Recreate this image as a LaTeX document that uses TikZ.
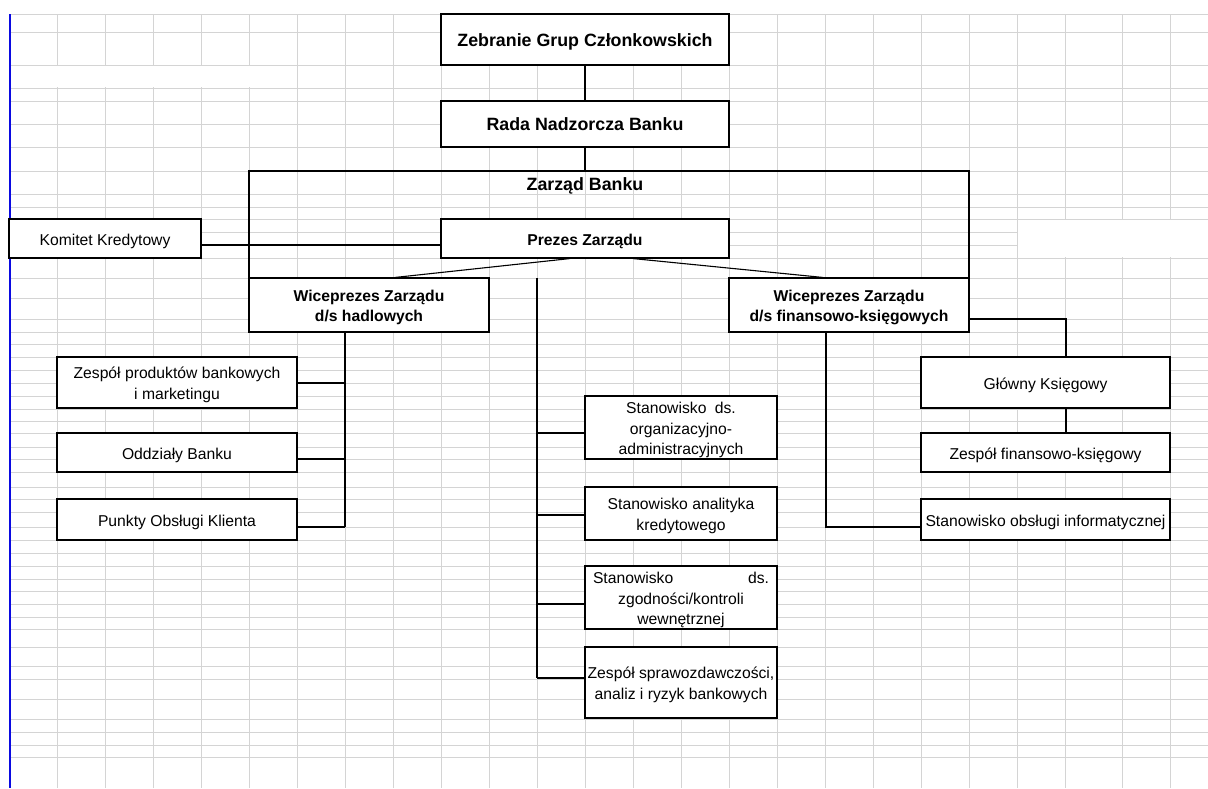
\documentclass[tikz,border=0pt]{standalone}
\usepackage{fontspec}
\setmainfont{Liberation Sans}
\definecolor{gridc}{RGB}{212,212,212}
\definecolor{bluel}{RGB}{10,10,225}
\newcommand{\topstrutx}{\rule{0pt}{17pt}}
\newcommand{\botstrutx}{\rule[-4pt]{0pt}{0pt}}
\tikzset{
  gridline/.style={draw=gridc, line width=0.9pt},
  conn/.style={draw=black, line width=1.1pt},
  box/.style={draw=black, fill=white, line width=1.1pt, rectangle, inner sep=0pt, align=center,
              font=\fontsize{15.7}{20.5}\selectfont},
  bigbox/.style={box, font=\fontsize{17.8}{21}\selectfont\bfseries},
  midbox/.style={box, font=\fontsize{15.7}{20.5}\selectfont\bfseries},
}
\begin{document}
\begin{tikzpicture}[x=1pt,y=-1pt]
\useasboundingbox (0,0) rectangle (1208,788);
\fill[white] (0,0) rectangle (1208,788);
% spreadsheet grid
\foreach \y in {14,32,65,88,101,124,147,171,194,207,219,232,245,258,278,298,319,332,344,357,370,383,396,409,421,433,447,459,472,487,499,512,527,540,553,566,579,591,604,617,629,647,666,679,699,719,732,745,757}
  \draw[gridline] (9,\y) -- (1208,\y);
\foreach \x in {57,105,...,1065,1122,1170}
  \draw[gridline] (\x,14) -- (\x,788);
\fill[white] (10.5,65.6) rectangle (296.5,87.4);
\fill[white] (1017.6,219.6) rectangle (1208,257.4);
\draw[bluel, line width=2pt] (9.5,14) -- (9.5,788);

% Zarzad frame
\draw[conn] (249,278) -- (249,171) -- (969,171) -- (969,278);
\node[font=\fontsize{17.8}{21}\selectfont\bfseries] (zb) at (585,186) {Zarząd Banku};
\coordinate (zt) at (585,171);

% nodes
\node[bigbox, minimum width=288pt, minimum height=51pt] (zeb) at (585,39.5) {\topstrutx Zebranie Grup Członkowskich\botstrutx};
\node[bigbox, minimum width=288pt, minimum height=46pt] (rada) at (585,124) {\topstrutx Rada Nadzorcza Banku\botstrutx};
\node[midbox, minimum width=288pt, minimum height=39pt] (prez) at (585,238.5) {\topstrutx Prezes Zarządu\botstrutx};
\node[box, minimum width=192pt, minimum height=39pt] (kom) at (105,238.5) {\topstrutx Komitet Kredytowy\botstrutx};
\node[midbox, minimum width=240pt, minimum height=54pt] (wl) at (369,305) {\topstrutx Wiceprezes Zarządu\\d/s hadlowych\botstrutx};
\node[midbox, minimum width=240pt, minimum height=54pt] (wr) at (849,305) {\topstrutx Wiceprezes Zarządu\\d/s finansowo-księgowych\botstrutx};

\node[box, minimum width=240pt, minimum height=51pt] (prod) at (177,382.5) {\topstrutx Zespół produktów bankowych\\i marketingu\botstrutx};
\node[box, minimum width=240pt, minimum height=39pt] (oddz) at (177,452.5) {\topstrutx Oddziały Banku\botstrutx};
\node[box, minimum width=240pt, minimum height=41pt] (punk) at (177,519.5) {\topstrutx Punkty Obsługi Klienta\botstrutx};

\node[box, minimum width=192pt, minimum height=63pt] (org) at (681,427.5) {\topstrutx Stanowisko\hspace{4pt} ds.\\organizacyjno-\\administracyjnych\botstrutx};
\node[box, minimum width=192pt, minimum height=53pt] (ana) at (681,513.5) {\topstrutx Stanowisko analityka\\kredytowego\botstrutx};
\node[box, minimum width=192pt, minimum height=63pt] (zgod) at (681,597.5) {\topstrutx\hbox to 176pt{Stanowisko\hfill ds.}\\zgodności/kontroli\\wewnętrznej\botstrutx};
\node[box, minimum width=192pt, minimum height=71pt] (zsp) at (681,682.5) {\topstrutx Zespół sprawozdawczości,\\analiz i ryzyk bankowych\botstrutx};

\node[box, minimum width=249pt, minimum height=51pt] (glow) at (1045.5,382.5) {\topstrutx Główny Księgowy\botstrutx};
\node[box, minimum width=249pt, minimum height=39pt] (zfk) at (1045.5,452.5) {\topstrutx Zespół finansowo-księgowy\botstrutx};
\node[box, minimum width=249pt, minimum height=41pt] (sinf) at (1045.5,519.5) {\topstrutx Stanowisko obsługi informatycznej\botstrutx};

% connectors
\draw[conn] (zeb.south) -- (rada.north);
\draw[conn] (rada.south) -- (zt);
\coordinate (yk) at (0,245);
\draw[conn] (kom.east |- yk) -- (prez.west |- yk);
\draw[conn] ([xshift=-15pt]prez.south) -- ([xshift=26pt]wl.north);
\draw[conn] ([xshift=48pt]prez.south) -- ([xshift=-26pt]wr.north);

% middle trunk
\coordinate (mt) at (537,278);
\coordinate (mb) at (537,678);
\draw[conn] (mt) -- (mb);
\coordinate (m1) at (537,433);
\coordinate (m2) at (537,515);
\coordinate (m3) at (537,604);
\draw[conn] (m1) -- (m1 -| org.west);
\draw[conn] (m2) -- (m2 -| ana.west);
\draw[conn] (m3) -- (m3 -| zgod.west);
\draw[conn] (mb) -- (mb -| zsp.west);

% left trunk
\coordinate (lt) at ([xshift=-24pt]wl.south);
\coordinate (l1) at (345,383);
\coordinate (l2) at (345,459);
\coordinate (l3) at (345,527);
\draw[conn] (lt) -- (l3);
\draw[conn] (l1) -- (l1 -| prod.east);
\draw[conn] (l2) -- (l2 -| oddz.east);
\draw[conn] (l3) -- (l3 -| punk.east);

% right side
\coordinate (r0) at (969,319);
\draw[conn] (r0) -| ([xshift=20.5pt]glow.north);
\draw[conn] ([xshift=20.5pt]glow.south) -- ([xshift=20.5pt]zfk.north);
\coordinate (rt) at ([xshift=-23pt]wr.south);
\coordinate (r3) at (826,527);
\draw[conn] (rt) -- (r3) -- (r3 -| sinf.west);
\end{tikzpicture}
\end{document}
